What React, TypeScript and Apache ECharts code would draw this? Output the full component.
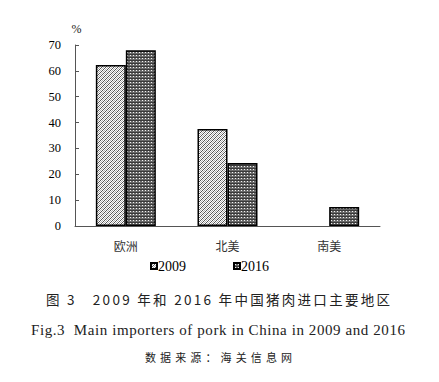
import React, { useEffect, useRef } from "react";
import * as echarts from "echarts";

const categories = ["欧洲", "北美", "南美"];
const series2009 = [62.3, 37.5, 0];
const series2016 = [68, 24.4, 7.3];
const yTicks = [0, 10, 20, 30, 40, 50, 60, 70];
const titleCn = "图 3   2009 年和 2016 年中国猪肉进口主要地区";
const titleEn = "Fig.3  Main importers of pork in China in 2009 and 2016";
const sourceText = "数据来源：海关信息网";

function makePattern(kind: "hatch" | "dots") {
  const c = document.createElement("canvas");
  const ctx = c.getContext("2d")!;
  if (kind === "hatch") {
    c.width = 4;
    c.height = 4;
    const rows = ["DWGW", "WGWD", "GWDW", "WDWG"];
    const col: Record<string, string> = { D: "#555555", W: "#ffffff", G: "#b0b0b0" };
    rows.forEach((r, y) =>
      r.split("").forEach((k, x) => {
        ctx.fillStyle = col[k];
        ctx.fillRect(x, y, 1, 1);
      })
    );
  } else {
    c.width = 3;
    c.height = 3;
    ctx.fillStyle = "#6a6a6a";
    ctx.fillRect(0, 0, 3, 3);
    ctx.fillStyle = "#3a3a3a";
    ctx.fillRect(0, 0, 3, 1);
    ctx.fillStyle = "#f4f4f4";
    ctx.fillRect(1, 1, 1, 1);
  }
  return { image: c, repeat: "repeat" } as any;
}

function spacing(text: string, font: string, target: number) {
  const c = document.createElement("canvas");
  const ctx = c.getContext("2d")!;
  ctx.font = font;
  const w = ctx.measureText(text).width;
  const n = Array.from(text).length;
  return Math.max(0, (target - w) / Math.max(1, n - 1));
}

export default function App() {
  const ref = useRef<HTMLDivElement>(null);
  useEffect(() => {
    if (!ref.current) return;
    document.body.style.margin = "0";
    const chart = echarts.init(ref.current, undefined, { renderer: "svg" });
    const p2009 = makePattern("hatch");
    const p2016 = makePattern("dots");
    const serif = "'Liberation Serif', 'Times New Roman', serif";
    const cjk = "'Noto Sans CJK SC', sans-serif";
    const fTitle = "13.5px 'Noto Sans CJK SC', sans-serif";
    const fEn = "15px 'Liberation Serif', serif";
    const fSrc = "11px 'Noto Sans CJK SC', sans-serif";
    const lsTitle = spacing(titleCn, fTitle, 344);
    const lsEn = spacing(titleEn, fEn, 374);
    const lsSrc = spacing(sourceText, fSrc, 147);
    chart.setOption({
      animation: false,
      backgroundColor: "#ffffff",
      grid: { left: 75, right: 59, top: 45, bottom: 156 },
      legend: {
        data: [
          { name: "2009", itemStyle: { color: p2009 } },
          { name: "2016", itemStyle: { color: p2016 } },
        ],
        top: 254,
        left: 145,
        itemGap: 47,
        itemWidth: 6,
        itemHeight: 6,
        icon: "rect",
        textStyle: { fontFamily: serif, fontSize: 14, color: "#000", padding: [0, 0, 0, -4] },
      },
      xAxis: {
        type: "category",
        data: categories,
        axisLine: { lineStyle: { color: "#555", width: 1 } },
        axisTick: { inside: true, length: 4, lineStyle: { color: "#555" } },
        axisLabel: { fontFamily: cjk, fontSize: 12, color: "#333", margin: 13 },
      },
      yAxis: {
        type: "value",
        min: 0,
        max: 70,
        interval: 10,
        name: "%",
        nameLocation: "end",
        nameGap: 10,
        nameTextStyle: { fontFamily: serif, fontSize: 12, color: "#222", align: "center", padding: [0, 0, 0, 3] },
        axisLine: { show: true, lineStyle: { color: "#555", width: 1 } },
        axisTick: { show: true, inside: true, length: 4, lineStyle: { color: "#555" } },
        splitLine: { show: false },
        axisLabel: {
          fontFamily: serif,
          fontSize: 12.5,
          color: "#000",
          margin: 14,
          formatter: (v: number) => (yTicks.includes(v) ? String(v) : ""),
        },
      },
      series: [
        {
          name: "2009",
          type: "bar",
          data: series2009.map((v) => (v === 0 ? null : v)),
          barWidth: 30,
          barGap: "0%",
          itemStyle: { color: p2009, borderColor: "#000", borderWidth: 1.5 },
        },
        {
          name: "2016",
          type: "bar",
          data: series2016,
          barWidth: 30,
          itemStyle: { color: p2016, borderColor: "#000", borderWidth: 1.5 },
        },
      ],
      graphic: [
        {
          type: "text",
          id: "t-cn",
          x: 218 + lsTitle / 2,
          y: 299,
          style: { text: titleCn, font: fTitle, fill: "#222", align: "center", verticalAlign: "middle" },
        },
        {
          type: "text",
          id: "t-en",
          x: 218 + lsEn / 2,
          y: 330,
          style: { text: titleEn, font: fEn, fill: "#222", align: "center", verticalAlign: "middle" },
        },
        {
          type: "text",
          id: "t-src",
          x: 218.5 + lsSrc / 2,
          y: 357,
          style: { text: sourceText, font: fSrc, fill: "#222", align: "center", verticalAlign: "middle" },
        },
      ],
    });
    const apply = () => {
      const texts = ref.current?.querySelectorAll("text") || [];
      texts.forEach((t: any) => {
        const s = t.textContent || "";
        if (s === titleCn) t.style.letterSpacing = lsTitle + "px";
        else if (s === titleEn) t.style.letterSpacing = lsEn + "px";
        else if (s === sourceText) t.style.letterSpacing = lsSrc + "px";
        if (s === titleCn || s === titleEn) t.style.whiteSpace = "pre";
      });
    };
    apply();
    chart.on("finished", apply);
    return () => chart.dispose();
  }, []);
  return <div ref={ref} style={{ width: 439, height: 382 }} />;
}
